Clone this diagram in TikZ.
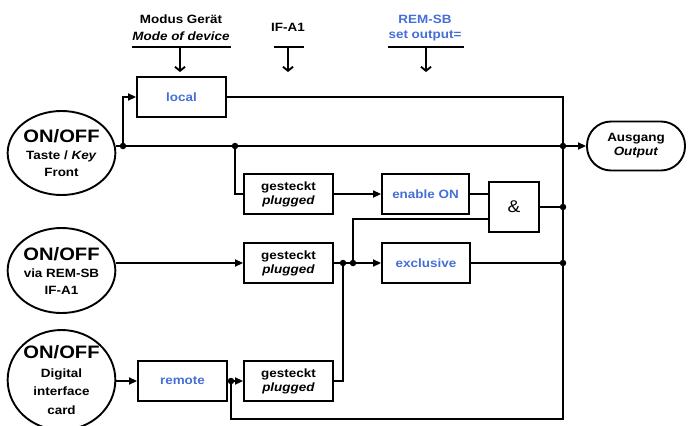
\documentclass[tikz,border=0pt]{standalone}
\usepackage{fontspec}
\setmainfont{Liberation Sans}[FakeStretch=1.12]
\usetikzlibrary{shapes.geometric,arrows.meta,calc}
\definecolor{myblue}{RGB}{70,110,215}
\begin{document}
\begin{tikzpicture}[x=1pt,y=-1pt,
  every node/.style={font=\fontsize{12}{14}\selectfont\bfseries, inner sep=0pt},
  blk/.style={draw, line width=1.9pt, minimum width=89pt, minimum height=40pt, align=center},
  btxt/.style={text=myblue},
  src/.style={draw, ellipse, line width=1.9pt, minimum width=103pt, minimum height=84pt, align=center, font=\fontsize{12}{17}\selectfont\bfseries},
  wire/.style={line width=1.9pt},
  arr/.style={-{Triangle[length=8pt,width=7pt]}},
  vee/.style={line width=1.9pt,-{Straight Barb[length=4pt,width=10pt]}},
  dot/.style={circle, fill, minimum size=6.5pt, inner sep=0pt},
]
\useasboundingbox (0,0) rectangle (689,426);
\clip (0,0) rectangle (689,426);

% sources
\node[src] (c1) at (61.5,153) {{\fontsize{18}{19}\selectfont ON/OFF}\\Taste / \textit{Key}\\Front};
\node[src, minimum height=85pt] (c2) at (61.5,270.5) {{\fontsize{18}{19}\selectfont ON/OFF}\\via REM-SB\\IF-A1};
\node[src, minimum height=100pt, font=\fontsize{12}{18.5}\selectfont\bfseries] (c3) at (61.5,380) {{\fontsize{18}{19}\selectfont ON/OFF}\\Digital\\interface\\card};

% boxes
\node[blk, btxt] (local) at (181.5,97) {local};
\node[blk] (g1) at (288.5,194) {gesteckt\\\textit{plugged}};
\node[blk, btxt, minimum width=87pt] (en) at (425.5,194) {enable ON};
\node[blk, minimum width=50pt, minimum height=50pt, font=\fontsize{17}{17}\selectfont] (and) at (514,207) {\&};
\node[blk] (g2) at (288.5,263) {gesteckt\\\textit{plugged}};
\node[blk, btxt, minimum width=88pt] (ex) at (426,263) {exclusive};
\node[blk] (g3) at (288.5,381) {gesteckt\\\textit{plugged}};
\node[blk, btxt] (rem) at (182.5,381) {remote};
\node[draw, line width=1.9pt, rounded corners=24pt, minimum width=98pt, minimum height=49pt, align=center] (out) at (636,146) {Ausgang\\\textit{Output}};

% junctions
\node[dot] (j1) at (123,146) {};
\node[dot] (j2) at (235,146) {};
\node[dot] (j3) at (563,146) {};
\node[dot] (j5) at (563,207) {};
\node[dot] (j8) at (563,263) {};
\node[dot] (j7) at (343,263) {};
\node[dot] (j6) at (353,263) {};
\node[dot] (j4) at (231,381) {};
\coordinate (rb) at (563,419);
\coordinate (a2) at ($(and.west)+(0,12)$);

% wires
\draw[wire,arr] (c1.east |- j1) -- (out.west);
\draw[wire,arr] (j1) |- (local.west);
\draw[wire] (local.east) -| (rb) -| (j4);
\draw[wire] (j2) |- (g1.west);
\draw[wire,arr] (g1.east) -- (en.west);
\draw[wire] (en.east) -- (en.east -| and.west);
\draw[wire] (and.east) -- (j5);
\draw[wire] (a2) -| (j6);
\draw[wire,arr] (c2.east |- g2.west) -- (g2.west);
\draw[wire,arr] (g2.east) -- (ex.west);
\draw[wire] (ex.east) -- (j8);
\draw[wire] (g3.east) -| (j7);
\draw[wire,arr] (c3.east |- rem.west) -- (rem.west);
\draw[wire,arr] (rem.east) -- (g3.west);

% top labels
\node (modus) at (181,19) {Modus Gerät};
\node (mode) at (181,36) {\textit{Mode of device}};
\coordinate (mbl) at (132,47); \coordinate (mbr) at (231,47);
\coordinate (mbs) at (180,47); \coordinate (mbe) at (180,72);
\draw[wire] (mbl) -- (mbr);
\draw[vee] (mbs) -- (mbe);

\node (ifa) at (288,27) {IF-A1};
\coordinate (ibl) at (274,47); \coordinate (ibr) at (304,47);
\coordinate (ibs) at (288,47); \coordinate (ibe) at (288,72);
\draw[wire] (ibl) -- (ibr);
\draw[vee] (ibs) -- (ibe);

\node[btxt] (remsb) at (425,19) {REM-SB};
\node[btxt] (setout) at (425,36) {set output=};
\coordinate (rbl) at (388,47); \coordinate (rbr) at (464,47);
\coordinate (rbs) at (426,47); \coordinate (rbe) at (426,72);
\draw[wire] (rbl) -- (rbr);
\draw[vee] (rbs) -- (rbe);
\end{tikzpicture}
\end{document}
